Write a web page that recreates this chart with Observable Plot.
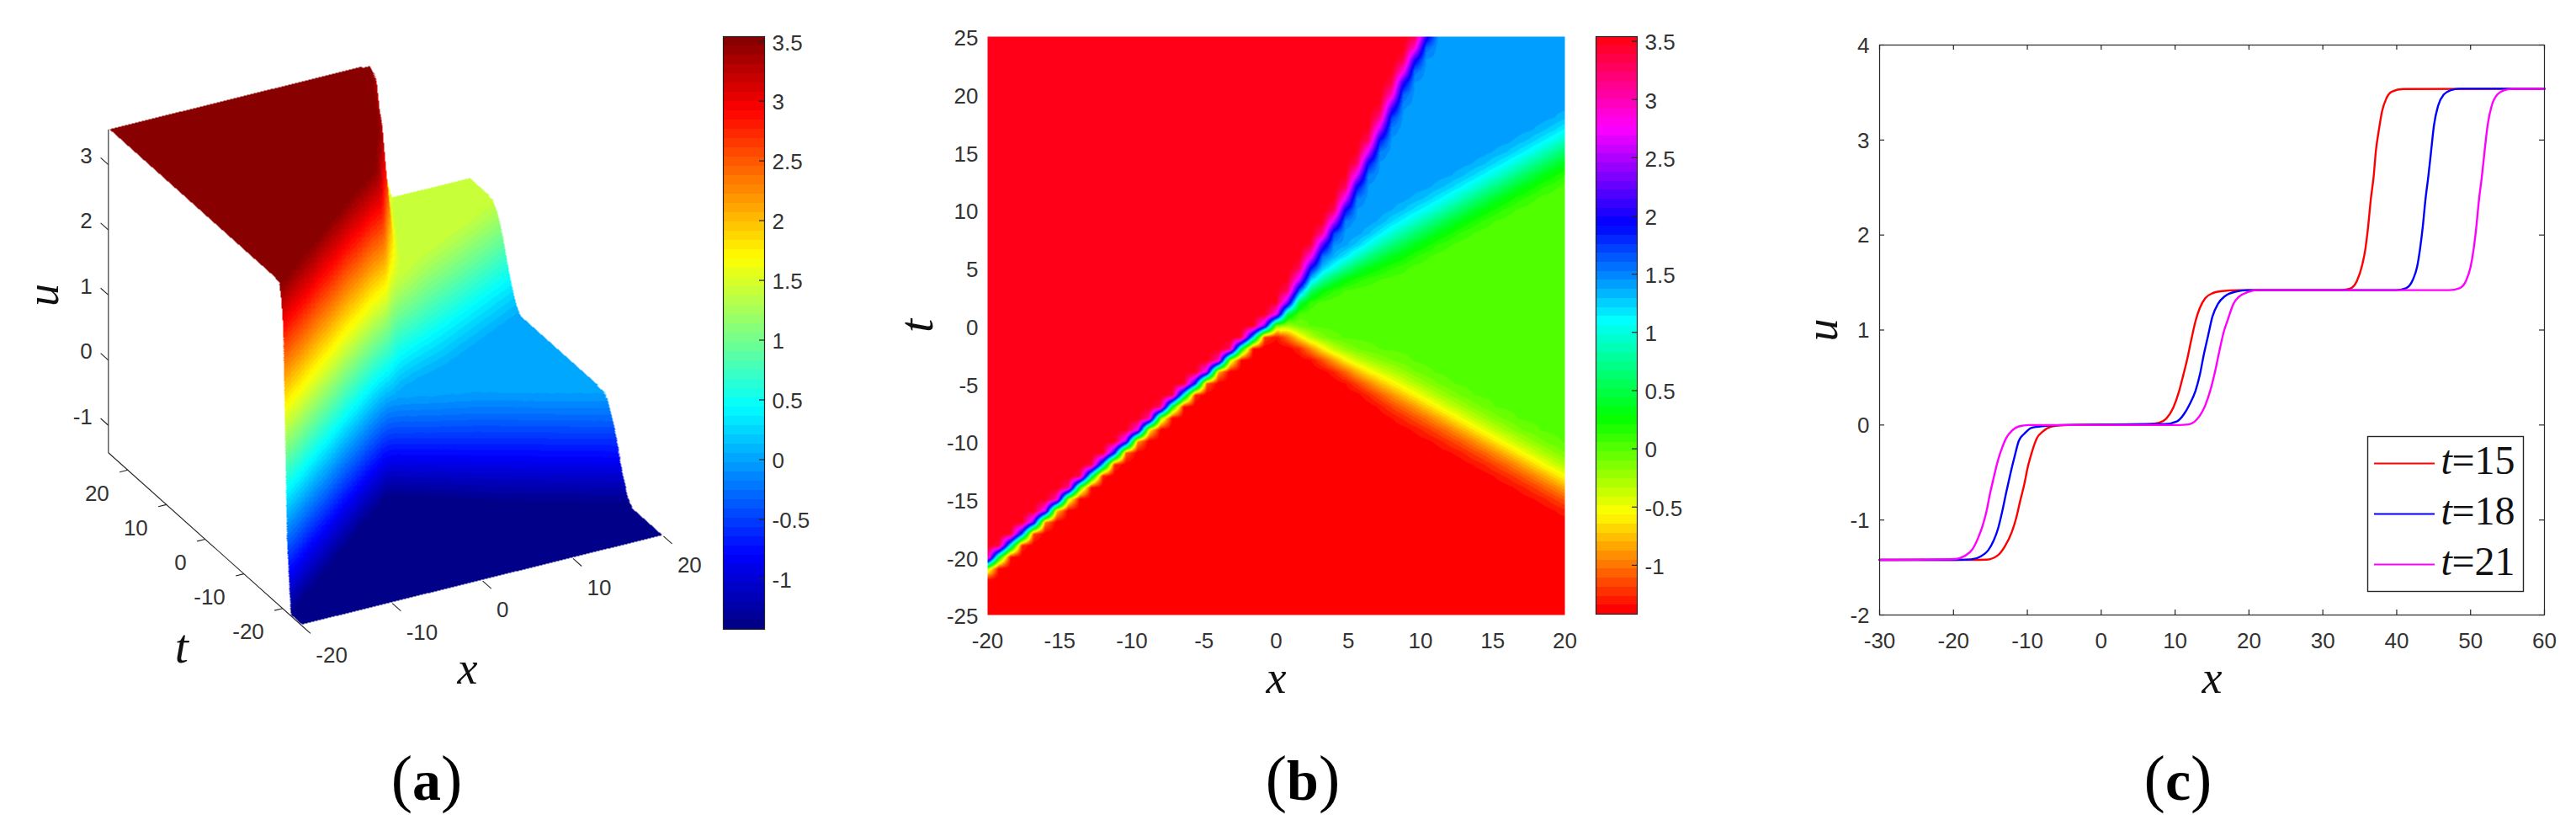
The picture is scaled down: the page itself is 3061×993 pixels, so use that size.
<!DOCTYPE html>
<html><head><meta charset="utf-8">
<script src="https://cdn.jsdelivr.net/npm/d3@7"></script>
<script src="https://cdn.jsdelivr.net/npm/@observablehq/plot@0.6"></script>
<style>
html,body{margin:0;padding:0;background:#fff;overflow:hidden}
#page{position:relative;width:3061px;height:993px;overflow:hidden}
.cell{position:absolute}
.cap{position:absolute;top:884px;transform:translateX(-50%);font-family:"Liberation Serif",serif;font-size:68px;line-height:80px;color:#000;white-space:nowrap}
.cap span{font-size:76px;font-weight:400}
</style></head><body><div id="page"></div>
<script>
// ---- plateau levels of u (c)
const uLow = -1.42, uMid = 0, uStep = 1.42, uHigh = 3.54;
// ---- steep front: x position of its centre at given t (panel b)
const wallT = [-25, -20.4, -6.09, 0, 1.41, 5.8, 9.8, 13.3, 16.5, 21.2, 25];
const wallX = [-24.2, -19.7, -6.5, -0.6, 0.55, 2.48, 4.45, 5.8, 7.05, 8.65, 10.2];
// ---- wall cross-section (distance in x from centre -> share of the rise)
const wallD = [-1.3, -1, -0.72, -0.48, -0.24, 0, 0.24, 0.48, 0.72, 1, 1.3];
const wallS = [0, 0.01, 0.04, 0.12, 0.27, 0.5, 0.73, 0.88, 0.96, 0.99, 1];
// ---- upper slope (1.42 -> 0) and lower slope (0 -> -1.42): centre t at given x
const upperX = [0, 2.73, 8.39, 20];
const upperT = [0.9, 3.5, 7.4, 15.4];
const lowerX = [0, 1, 4.88, 8.39, 20];
const lowerT = [-0.2, -0.7, -3.3, -5.6, -13.6];
// ---- slope cross-section (distance in t from centre -> share), and widening with x
const riseD = [-4, -3.2, -2.3, -1.2, -0.6, 0, 0.6, 1.2, 2.3, 3.2, 4];
const riseS = [0, 0.015, 0.09, 0.25, 0.37, 0.5, 0.63, 0.75, 0.91, 0.985, 1];
const widthX = [0, 2, 5, 8.4, 20];
const widthK = [0.3, 0.45, 0.65, 1, 1.05];
// ---- panel (c) curves
const x15 = [-30,-17.6,-15.51,-14,-13.04,-12.1,-11.5,-10.96,-10.39,-10.01,-9.44,-8.68,-7.92,-6.4,-4.5,6.51,7.84,8.79,9.74,10.5,11.06,11.63,12.2,12.77,13.34,14.1,15.05,16.38,18.66,32.32,33.65,34.6,35.36,35.74,36.12,36.5,36.88,37.18,37.56,38.01,38.58,39.34,40.86,60];
const u15 = [-1.42,-1.42,-1.417,-1.372,-1.276,-1.126,-0.976,-0.796,-0.616,-0.466,-0.3,-0.135,-0.069,-0.01,0,0.01,0.024,0.066,0.18,0.345,0.51,0.69,0.9,1.095,1.23,1.336,1.387,1.41,1.42,1.42,1.435,1.515,1.694,1.843,2.08,2.379,2.617,2.885,3.093,3.3,3.435,3.51,3.537,3.54];
const x18 = [-30,-19.69,-17.6,-16.27,-15.32,-14.56,-13.99,-13.42,-12.85,-12.29,-11.72,-11.15,-10.39,-9.44,-7.73,-5.3,8.6,10.3,11.25,12.01,12.77,13.34,13.91,14.48,15.05,15.81,16.76,18.28,19.8,39.84,41.24,42.19,42.76,43.14,43.52,43.9,44.28,44.66,45.04,45.61,46.37,47.32,48.46,60];
const u18 = [-1.42,-1.42,-1.414,-1.381,-1.321,-1.216,-1.096,-0.916,-0.706,-0.511,-0.33,-0.165,-0.09,-0.03,-0.01,0,0.01,0.04,0.12,0.225,0.36,0.525,0.75,0.945,1.14,1.276,1.357,1.405,1.42,1.42,1.44,1.53,1.664,1.843,2.08,2.379,2.617,2.885,3.153,3.362,3.48,3.525,3.54,3.54];
const x21 = [-30,-19.69,-18.55,-17.41,-16.65,-16.08,-15.51,-15.13,-14.56,-13.99,-13.42,-12.85,-12.09,-11.15,-9.82,10.5,11.82,12.96,14.1,14.86,15.43,16,16.57,17.14,17.9,18.66,19.8,21,47.1,48.5,49.45,50,50.4,50.77,51.15,51.53,51.9,52.3,52.86,53.62,54.6,55.7,60];
const u21 = [-1.42,-1.41,-1.381,-1.306,-1.186,-1.066,-0.901,-0.751,-0.556,-0.375,-0.24,-0.135,-0.06,-0.015,0,0,0.006,0.06,0.21,0.39,0.57,0.78,0.976,1.11,1.276,1.351,1.397,1.42,1.42,1.44,1.53,1.664,1.843,2.08,2.379,2.617,2.885,3.153,3.362,3.48,3.525,3.54,3.54];
const legendLabels = ["=15", "=18", "=21"];
const curveColors = ["#ff0000", "#0000ff", "#ff00ff"];
// ---- tick labels
const barTicks = [-1, -0.5, 0, 0.5, 1, 1.5, 2, 2.5, 3, 3.5];
const bTicksX = [-20, -15, -10, -5, 0, 5, 10, 15, 20];
const bTicksT = [-25, -20, -15, -10, -5, 0, 5, 10, 15, 20, 25];
const cTicksX = [-30, -20, -10, 0, 10, 20, 30, 40, 50, 60];
const cTicksU = [-2, -1, 0, 1, 2, 3, 4];
const aTicksX = [-20, -10, 0, 10, 20];
const aTicksT = [-20, -10, 0, 10, 20];
const aTicksU = [-1, 0, 1, 2, 3];

// ---- shared style
const tickFont = '"Liberation Sans Narrow","Liberation Sans",Arial,sans-serif';
const mathFont = '"Liberation Serif",serif';
const ink = "#333333";
const fs = String;
const lookup = (d, r) => d3.scaleLinear().domain(d).range(r).clamp(true);

// ---- surface on the 51x51 mesh shown by panel (b)'s saw-tooth
const wallAt = lookup(wallT, wallX), wallShare = lookup(wallD, wallS);
const upperAt = lookup(upperX, upperT), lowerAt = lookup(lowerX, lowerT);
const riseShare = lookup(riseD, riseS), widthAt = lookup(widthX, widthK);
const nx = 51, nt = 51, dx = 0.8, dt = 1;
const mesh = new Float64Array(nx * nt);
for (let j = 0; j < nt; j++) for (let i = 0; i < nx; i++) {
  const x = -20 + i * dx, t = -25 + j * dt, w = widthAt(x);
  const v = uLow + (uMid - uLow) * riseShare((t - lowerAt(x)) / w) + (uStep - uMid) * riseShare((t - upperAt(x)) / w);
  mesh[j * nx + i] = v + (uHigh - v) * wallShare(wallAt(t) - x);
}
function surf(x, t) {
  const fx = Math.min((x + 20) / dx, nx - 1.0001), ft = Math.min((t + 25) / dt, nt - 1.0001);
  const i = fx | 0, j = ft | 0, a = fx - i, b = ft - j, k = j * nx + i;
  return (mesh[k] * (1 - a) + mesh[k + 1] * a) * (1 - b) + (mesh[k + nx] * (1 - a) + mesh[k + nx + 1] * a) * b;
}

// ---- colour maps: 64 steps across [uLow, uHigh], as in the colorbars
const steps = d3.range(64);
const thresholds = d3.range(1, 64).map(i => uLow + (uHigh - uLow) * i / 64);
const jetAt = d3.scaleLinear().domain([0, .125, .375, .625, .875, 1])
  .range(["#000080", "#0000ff", "#00ffff", "#ffff00", "#ff0000", "#800000"]);
const jetColors = steps.map(i => jetAt((i + .5) / 64));
const hsvColors = steps.map(i => d3.hsl(360 * i / 64, 1, .5).formatHex());
const jetScale = {type: "threshold", domain: thresholds, range: jetColors};
const hsvScale = {type: "threshold", domain: thresholds, range: hsvColors};
const bands = steps.map(i => ({lo: uLow + (uHigh - uLow) * i / 64, hi: uLow + (uHigh - uLow) * (i + 1) / 64}));

// ---- placing
const page = document.getElementById("page");
function place(node, left, top, w) {
  const d = document.createElement("div");
  d.className = "cell"; d.style.left = left + "px"; d.style.top = top + "px"; d.style.width = w + "px";
  d.appendChild(node); page.appendChild(d);
}
const rootStyle = {background: "transparent", overflow: "visible", maxWidth: "none"};
const mathText = {fontStyle: "italic", fontFamily: mathFont, fill: "#111", lineAnchor: "middle", textAnchor: "middle"};

// ---- colorbar
function colorbar(scale, left, top, h) {
  const w = 49;
  place(Plot.plot({
    width: w + 70, height: h, marginLeft: 0, marginRight: 70, marginTop: 0, marginBottom: 0, style: rootStyle,
    x: {domain: [0, 1], axis: null},
    y: {domain: [uLow, uHigh], range: [h, 0], axis: null},
    color: scale,
    marks: [
      Plot.rect(bands, {x1: 0, x2: 1, y1: "lo", y2: "hi", fill: d => (d.lo + d.hi) / 2, shapeRendering: "crispEdges"}),
      Plot.tickY(barTicks, {y: d => d, insetLeft: w - 6, stroke: "#222", strokeWidth: 1.2}),
      Plot.axisY(barTicks, {anchor: "right", tickSize: 0, tickPadding: 9, tickFormat: fs, fontSize: 26, fontFamily: tickFont, color: ink, dy: 2, label: null}),
      Plot.frame({stroke: "#222", strokeWidth: 1.2})
    ]
  }), left, top, w + 70);
}

// ---- panel (a): oblique projection of (x, t, u) to the picture plane
const O = {x: 243.3, y: 640}, ex = {x: 10.74, y: -2.66}, et = {x: -4.6, y: -4.11}, euY = -77.4;
const proj = (x, t, u) => [O.x + (x + 20) * ex.x + t * et.x, O.y + (x + 20) * ex.y + t * et.y + (u - uLow) * euY];
const det = ex.x * et.y - et.x * ex.y;
function hit(sx, sy) {
  // follow the line of sight from above, through the surface
  const h = (u) => {
    const a = sx - O.x, b = sy - O.y - (u - uLow) * euY;
    return [(a * et.y - et.x * b) / det - 20, (ex.x * b - ex.y * a) / det];
  };
  const du = 0.02;
  let prev = null, pu = 0;
  for (let u = uHigh + 0.06; u >= uLow - 0.02; u -= du) {
    const [x, t] = h(u);
    if (x < -20 || x > 20 || t < -25 || t > 25) { prev = null; continue; }
    const s = u - surf(x, t);
    if (prev !== null && (s <= 0) !== (prev <= 0)) {
      let a = pu, b = u, sa = prev;
      for (let k = 0; k < 6; k++) {
        const m = (a + b) / 2, [mx, mt] = h(m), sm = m - surf(mx, mt);
        if ((sm <= 0) === (sa <= 0)) { a = m; sa = sm; } else b = m;
      }
      return (a + b) / 2;
    }
    prev = s; pu = u;
  }
  return NaN;
}
const seg = (p, q) => ({x1: p[0], y1: p[1], x2: q[0], y2: q[1]});
const linesA = [
  seg(proj(-20, 25, uLow), proj(-20, 25, uHigh)),
  seg(proj(-20, -25, uLow), proj(-20, 25, uLow)),
  ...aTicksU.map(u => seg(proj(-20, 25, u), proj(-20, 27, u))),
  ...aTicksT.map(t => seg(proj(-20, t, uLow), proj(-20.9, t, uLow))),
  ...aTicksX.map(x => seg(proj(x, -25, uLow), proj(x, -27.2, uLow)))
];
const labelA = (rows, at) => rows.map(v => { const p = at(v); return {x: p[0], y: p[1], v: String(v)}; });
place(Plot.plot({
  width: 860, height: 800, margin: 0, style: rootStyle,
  x: {domain: [0, 860], range: [0, 860], axis: null},
  y: {domain: [0, 800], range: [0, 800], axis: null},
  color: jetScale,
  marks: [
    Plot.link(linesA, {x1: "x1", y1: "y1", x2: "x2", y2: "y2", stroke: "#262626", strokeWidth: 1.1, markerEnd: "none"}),
    Plot.raster({x1: 100, x2: 820, y1: 40, y2: 760, pixelSize: 1, fill: (x, y) => hit(x, y)}),
    Plot.text(labelA(aTicksU, u => proj(-20, 25, u)), {x: "x", y: "y", text: "v", dx: -19, dy: -10, textAnchor: "end", fontSize: 26, fontFamily: tickFont, fill: ink}),
    Plot.text(labelA(aTicksT, t => proj(-20, t, uLow)), {x: "x", y: "y", text: "v", dx: -22, dy: 28, textAnchor: "end", fontSize: 26, fontFamily: tickFont, fill: ink}),
    Plot.text(labelA(aTicksX, x => proj(x, -25, uLow)), {x: "x", y: "y", text: "v", dx: 16.5, dy: 35, textAnchor: "start", fontSize: 26, fontFamily: tickFont, fill: ink}),
    Plot.text([{p: proj(0, -25, uLow), s: "x"}], {x: d => d.p[0], y: d => d.p[1], text: "s", dx: -18, dy: 105, fontSize: 54, ...mathText}),
    Plot.text([{p: proj(-20, 0, uLow), s: "t"}], {x: d => d.p[0], y: d => d.p[1], text: "s", dx: -28, dy: 128, fontSize: 58, ...mathText}),
    Plot.text([{p: proj(-20, 25, 1), s: "u"}], {x: d => d.p[0], y: d => d.p[1], text: "s", dx: -77, dy: 0, rotate: -90, fontSize: 54, ...mathText})
  ]
}), 0, 0, 860);
colorbar(jetScale, 858.5, 43, 704);

// ---- panel (b)
place(Plot.plot({
  width: 686 + 170, height: 687 + 110, marginLeft: 100, marginRight: 70, marginTop: 0, marginBottom: 110, style: rootStyle,
  x: {domain: [-20, 20], axis: null},
  y: {domain: [-25, 25], axis: null},
  color: hsvScale,
  marks: [
    Plot.raster({x1: -20, x2: 20, y1: -25, y2: 25, pixelSize: 1, fill: (x, t) => surf(x, t)}),
    Plot.axisX(bTicksX, {anchor: "bottom", tickSize: 0, tickPadding: 21, tickFormat: fs, fontSize: 26, fontFamily: tickFont, color: ink, label: null}),
    Plot.axisY(bTicksT, {anchor: "left", tickSize: 0, tickPadding: 11, tickFormat: fs, fontSize: 26, fontFamily: tickFont, color: ink, dy: 2.5, label: null}),
    Plot.text(["x"], {frameAnchor: "bottom", text: d => d, dy: 75, fontSize: 54, ...mathText}),
    Plot.text(["t"], {frameAnchor: "left", text: d => d, dx: -84, rotate: -90, fontSize: 58, ...mathText})
  ]
}), 1073, 43, 856);
colorbar(hsvScale, 1895.5, 43, 686);

// ---- panel (c)
const series = [[x15, u15], [x18, u18], [x21, u21]].map(([xs, us], k) => xs.map((x, i) => ({x, u: us[i], k})));
const hTicks = 6;
place(Plot.plot({
  width: 790 + 130, height: 677 + 110, marginLeft: 100, marginRight: 30, marginTop: 0, marginBottom: 110, style: rootStyle,
  x: {domain: [-30, 60], axis: null},
  y: {domain: [-2, 4], axis: null},
  marks: [
    ...series.map(s => Plot.line(s, {x: "x", y: "u", stroke: curveColors[s[0].k], strokeWidth: 2.4, curve: "monotone-x"})),
    Plot.tickX(cTicksX, {x: d => d, insetTop: 677 - hTicks, stroke: "#262626", strokeWidth: 1.2}),
    Plot.tickX(cTicksX, {x: d => d, insetBottom: 677 - hTicks, stroke: "#262626", strokeWidth: 1.2}),
    Plot.tickY(cTicksU, {y: d => d, insetRight: 790 - hTicks, stroke: "#262626", strokeWidth: 1.2}),
    Plot.tickY(cTicksU, {y: d => d, insetLeft: 790 - hTicks, stroke: "#262626", strokeWidth: 1.2}),
    Plot.axisX(cTicksX, {anchor: "bottom", tickSize: 0, tickPadding: 21, tickFormat: fs, fontSize: 26, fontFamily: tickFont, color: ink, label: null}),
    Plot.axisY(cTicksU, {anchor: "left", tickSize: 0, tickPadding: 12, tickFormat: fs, fontSize: 26, fontFamily: tickFont, color: ink, dy: 1, label: null}),
    Plot.frame({stroke: "#262626", strokeWidth: 1.2}),
    Plot.text(["x"], {frameAnchor: "bottom", text: d => d, dy: 75, fontSize: 54, ...mathText}),
    Plot.text(["u"], {frameAnchor: "left", text: d => d, dx: -68, rotate: -90, fontSize: 54, ...mathText})
  ]
}), 2133, 53, 920);

// ---- legend of panel (c)
place(Plot.plot({
  width: 185, height: 184, margin: 0, style: {...rootStyle, background: "#fff"},
  x: {domain: [0, 185], range: [0, 185], axis: null},
  y: {type: "point", domain: legendLabels, range: [32, 152], padding: 0, axis: null},
  marks: [
    Plot.ruleY(legendLabels, {y: d => d, x1: 8, x2: 80, stroke: (d, i) => curveColors[i], strokeWidth: 2.2}),
    Plot.text(legendLabels, {y: d => d, x: 87, text: () => "t", dy: -3, textAnchor: "start", fontSize: 48, fontStyle: "italic", fontFamily: mathFont, fill: "#111"}),
    Plot.text(legendLabels, {y: d => d, x: 100, text: d => d, dy: -3, textAnchor: "start", fontSize: 48, fontFamily: mathFont, fill: "#111"}),
    Plot.frame({stroke: "#262626", strokeWidth: 1.4})
  ]
}), 2813, 518, 185);

// ---- captions
[["a", 507], ["b", 1548], ["c", 2588]].forEach(([s, x]) => {
  const d = document.createElement("div");
  d.className = "cap"; d.style.left = x + "px";
  d.innerHTML = "<span>(</span><b>" + s + "</b><span>)</span>";
  page.appendChild(d);
});
</script></body></html>
